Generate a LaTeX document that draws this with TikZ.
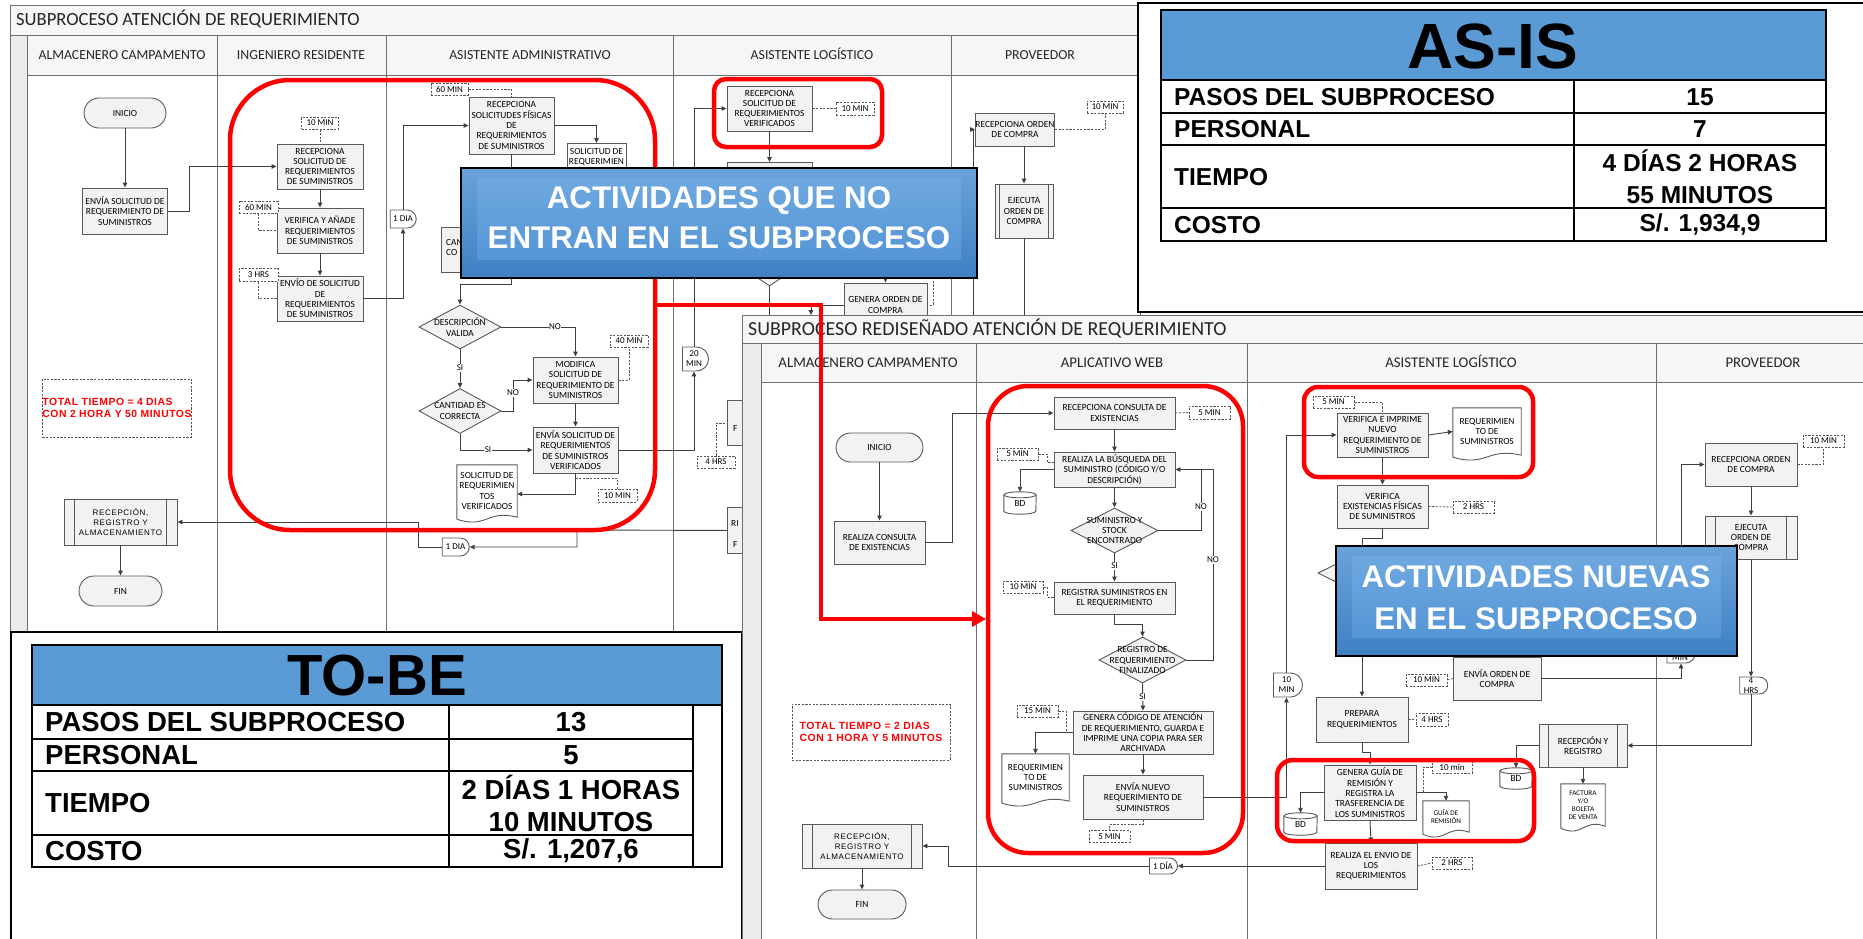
\documentclass[tikz,border=0pt]{standalone}
\usepackage{fontspec}
\setmainfont{Carlito}
\newfontfamily\arialf{Liberation Sans}
\newfontfamily\arialsp{Liberation Sans}[LetterSpace=8]
\newfontfamily\redsp{Liberation Sans}[LetterSpace=5]
\usetikzlibrary{shapes.geometric,shapes.misc,arrows.meta,calc}
\definecolor{lncol}{HTML}{3F3F3F}
\definecolor{bxcol}{HTML}{595959}
\definecolor{bxfill}{HTML}{F2F2F2}
\definecolor{dshcol}{HTML}{555555}
\definecolor{redc}{HTML}{FF0000}
\definecolor{bluetab}{HTML}{5B9BD5}
\definecolor{frmcol}{HTML}{6F6F6F}
\definecolor{hdrfill}{HTML}{F6F6F6}
\definecolor{stripfill}{HTML}{EBEBEB}
\definecolor{blueT}{HTML}{6AA3DB}
\definecolor{blueB}{HTML}{3F7FC3}
\definecolor{blueIT}{HTML}{6EA8DF}
\definecolor{blueIB}{HTML}{5696D6}
\newcommand\bxf{\fontsize{9.4}{10.3}\selectfont}
\newcommand\tmf{\fontsize{9}{10}\selectfont}
\newcommand\smf{\fontsize{7.2}{8}\selectfont}
\newcommand\hdf{\fontsize{13.8}{15}\selectfont}
\newcommand\hdfb{\fontsize{14.8}{16}\selectfont}
\newcommand\ttlf{\fontsize{18.6}{20}\selectfont}
\newcommand\ttlfb{\fontsize{19.9}{22}\selectfont}
\newcommand\rppf{\arialsp\fontsize{8}{10.3}\selectfont}
\newcommand\redf{\redsp\bfseries\fontsize{10.4}{11.5}\selectfont}
\newcommand\tbr{\arialf\bfseries\fontsize{24.5}{32}\selectfont}
\newcommand\tbrb{\arialf\bfseries\fontsize{27.5}{32}\selectfont}
\newcommand\tbh{\arialf\bfseries\fontsize{64}{66}\selectfont}
\newcommand\tbhb{\arialf\bfseries\fontsize{58}{60}\selectfont}
\newcommand\blf{\arialf\bfseries\fontsize{31.3}{40}\selectfont}
\newcommand\docsh[1]{\draw[bxl] ([yshift=-2pt]#1.south west) -- (#1.north west) -- (#1.north east) -- (#1.south east) .. controls ($(#1.south)+(0,-8)$) and ($(#1.south)+(0,12)$) .. ([yshift=-2pt]#1.south west);}
\newcommand\cyl[2]{\draw[bxl] ([yshift=-3pt]#1.north west) -- ([yshift=3pt]#1.south west) arc[start angle=180, end angle=0, x radius=#2, y radius=3] -- ([yshift=-3pt]#1.north east); \draw[bxl] ([yshift=-3pt]#1.north) ellipse[x radius=#2, y radius=3];}
\newcommand\ppl[2]{\draw[bxl] ([xshift=#2pt]#1.north west) -- ([xshift=#2pt]#1.south west); \draw[bxl] ([xshift=-#2pt]#1.north east) -- ([xshift=-#2pt]#1.south east);}
\tikzset{
 ln/.style={draw=lncol, line width=0.9pt},
 ar/.style={ln, -{Triangle[length=5pt,width=4.5pt]}},
 dsh/.style={draw=dshcol, line width=0.8pt, dash pattern=on 2.2pt off 1.4pt},
 bxl/.style={draw=bxcol, line width=0.9pt},
 bx/.style={draw=bxcol, fill=bxfill, line width=0.9pt, inner sep=0pt, align=center, font=\bxf, text=black},
 sz/.style 2 args={minimum width=#1, minimum height=#2},
 tm/.style={dsh, fill=white, inner sep=0pt, font=\tmf},
 dly/.style={draw=bxcol, fill=white, line width=0.9pt, rounded rectangle, rounded rectangle left arc=none, inner sep=0pt, align=center, font=\tmf},
 term/.style={draw=bxcol, fill=bxfill, line width=0.9pt, rounded rectangle, inner sep=0pt, font=\bxf},
 dia/.style={draw=bxcol, fill=bxfill, line width=0.9pt, diamond, inner sep=0pt},
 plain/.style={inner sep=0pt, align=center, font=\bxf, text=black},
 lbl/.style={fill=white, inner sep=0.6pt, font=\tmf},
 frm/.style={draw=frmcol, line width=1pt},
 hdr/.style={font=\hdf, inner sep=0pt, text=black!85},
 hdrb/.style={font=\hdfb, inner sep=0pt, text=black!85},
 redr/.style={draw=redc, line width=4.5pt},
 tot/.style={dsh, inner sep=0pt, align=left, text=redc, font=\redf},
 tbt/.style={font=\tbr, inner sep=0pt, align=center},
 tbtb/.style={font=\tbrb, inner sep=0pt, align=center},
 bltx/.style={font=\blf, text=white, inner sep=0pt},
}
\begin{document}
\begin{tikzpicture}[x=1pt,y=-1pt]
\clip (0,0) rectangle (1863,938);
\fill[white] (0,0) rectangle (1863,938);
% ================= TOP (AS-IS) SWIMLANE =================
\fill[hdrfill] (10,5) rectangle (1140,75);
\fill[stripfill] (10,35) rectangle (27,640);
\draw[frm] (10,5) rectangle (1140,640);
\draw[frm] (10,35) -- (1140,35);
\draw[frm] (27,75) -- (1140,75);
\draw[frm] (27,35) -- (27,640);
\foreach \x in {217,386,673,951} {\draw[frm] (\x,35) -- (\x,640);}
\node[font=\ttlf, inner sep=0pt, text=black!85, anchor=base west] (ttlA) at (16,25.5) {SUBPROCESO ATENCIÓN DE REQUERIMIENTO};
\node[hdr, anchor=base] (hA1) at (122,59.5) {ALMACENERO CAMPAMENTO};
\node[hdr, anchor=base] (hA2) at (301,59.5) {INGENIERO RESIDENTE};
\node[hdr, anchor=base] (hA3) at (530,59.5) {ASISTENTE ADMINISTRATIVO};
\node[hdr, anchor=base] (hA4) at (812,59.5) {ASISTENTE LOGÍSTICO};
\node[hdr, anchor=base] (hA5) at (1040,59.5) {PROVEEDOR};
% nodes
\node[term, sz={82}{30}] (inicioA) at (125,113) {INICIO};
\node[bx, sz={85}{46}] (envA) at (125,211) {ENVÍA SOLICITUD DE\\REQUERIMIENTO DE\\SUMINISTROS};
\node[bx, sz={86}{45}] (recA) at (320,166.5) {RECEPCIONA\\SOLICITUD DE\\REQUERIMIENTOS\\DE SUMINISTROS};
\node[tm, sz={37}{12}] (t10a) at (320,123) {10 MIN};
\node[bx, sz={86}{45}] (verA) at (320,230.5) {VERIFICA Y AÑADE\\REQUERIMIENTOS\\DE SUMINISTROS};
\node[tm, sz={39}{12}] (t60a) at (258.5,207) {60 MIN};
\node[bx, sz={86}{45}] (envioA) at (320,298.5) {ENVÍO DE SOLICITUD\\DE\\REQUERIMIENTOS\\DE SUMINISTROS};
\node[tm, sz={39}{13}] (t3a) at (258.5,275) {3 HRS};
\node[dly, sz={26}{18}] (dia1a) at (403,219) {1 DIA};
\node[bx, sz={85}{57}] (recsolA) at (511.5,125.5) {RECEPCIONA\\SOLICITUDES FÍSICAS\\DE\\REQUERIMIENTOS\\DE SUMINISTROS};
\node[tm, sz={37}{12}] (t60b) at (449.5,89) {60 MIN};
\node[bx, fill=white, sz={59}{57}, anchor=north] (docA1) at (596.5,143) {};
\node[plain, anchor=north] (docA1t) at (596.5,148) {SOLICITUD DE\\REQUERIMIEN};
\node[bx, sz={85}{45}] (canA) at (483.5,249.5) {};
\node[plain, anchor=north west, align=left] (canAt) at (446,239) {CAN\\CO};
\node[dia, sz={82}{44}] (dDesc) at (460,327) {};
\node[plain] (dDesct) at (460,327) {DESCRIPCIÓN\\VALIDA};
\node[dia, sz={82}{45}] (dCant) at (460,411) {};
\node[plain] (dCantt) at (460,411) {CANTIDAD ES\\CORRECTA};
\node[bx, sz={85}{46}] (modA) at (575.5,380) {MODIFICA\\SOLICITUD DE\\REQUERIMIENTO DE\\SUMINISTROS};
\node[tm, sz={38}{12}] (t40a) at (629,341) {40 MIN};
\node[bx, sz={85}{46}] (envvA) at (575.5,450) {ENVÍA SOLICITUD DE\\REQUERIMIENTOS\\DE SUMINISTROS\\VERIFICADOS};
\node[plain, sz={60}{52}] (docA2) at (487,491) {SOLICITUD DE\\REQUERIMIEN\\TOS\\VERIFICADOS};
\docsh{docA2}
\node[tm, sz={39}{13}] (t10b) at (617.5,495.5) {10 MIN};
\node[dly, sz={26}{24}] (min20) at (694,359) {20\\MIN};
\node[bx, sz={85}{45}] (recLA) at (769.5,108.5) {RECEPCIONA\\SOLICITUD DE\\REQUERIMIENTOS\\VERIFICADOS};
\node[tm, sz={38}{13}] (t10c) at (855,108.5) {10 MIN};
\node[bx, sz={85}{40}, anchor=north] (boxLA2) at (769.5,162) {};
\node[dia, sz={90}{60}] (dLA) at (769.5,256) {};
\node[bx, sz={83}{44}] (genOC) at (885.5,305) {GENERA ORDEN DE\\COMPRA};
\node[bx, sz={75}{33}] (recOC) at (1015,129.5) {RECEPCIONA ORDEN\\DE COMPRA};
\node[tm, sz={36}{12}] (t10d) at (1105,107) {10 MIN};
\node[bx, sz={58}{54}] (ejOC) at (1024,211) {EJECUTA\\ORDEN DE\\COMPRA};
\ppl{ejOC}{5}
\node[bx, sz={85}{45}, anchor=north west] (bF) at (727,400) {};
\node[plain, anchor=west] (bFt) at (733,428) {F};
\node[bx, sz={85}{46}, anchor=north west] (bRI) at (727,507) {};
\node[plain, anchor=west] (bRIt) at (731,523) {RI};
\node[plain, anchor=west] (bRIt2) at (733,544) {F};
\node[tm, sz={38}{12}] (t4a) at (716,462) {4 HRS};
\node[dly, sz={27}{18}] (dia1b) at (455.5,547) {1 DIA};
\node[bx, font=\rppf, sz={113}{46}] (recRA) at (120.5,522) {RECEPCIÓN,\\REGISTRO Y\\ALMACENAMIENTO};
\ppl{recRA}{11}
\node[term, sz={83}{30}] (finA) at (120.5,591) {FIN};
\node[tot, sz={148}{58}] (totA) at (117,408) {TOTAL TIEMPO = 4 DIAS\\CON 2 HORA Y 50 MINUTOS};
% connectors
\draw[ar] (inicioA.south) -- (envA.north);
\draw[ar] (envA.east) -- (189,211) |- (recA.west);
\draw[dsh] (t10a.south) -- (recA.north);
\draw[ar] (recA.south) -- (verA.north);
\draw[dsh] (t60a.south) |- (verA.west);
\draw[ar] (verA.south) -- (envioA.north);
\draw[dsh] (t3a.south) |- (envioA.west);
\draw[ar] (envioA.east) -| (dia1a.south);
\draw[ar] (dia1a.north) |- (recsolA.west);
\draw[dsh] (t60b.east) -| (recsolA.north);
\draw[ar] (recsolA.east) -| (docA1.north);
\draw[ln] (recsolA.south) -- ++(0,20);
\draw[ar] (511.5,270) -- (511.5,284) -| (dDesc.north);
\draw[ar] (dDesc.east) -| (modA.north);
\node[lbl] (noA1) at (555,327) {NO};
\draw[ar] (dDesc.south) -- (dCant.north);
\node[lbl] (siA1) at (460,368) {SI};
\draw[ar] (dCant.east) -- (513,411) |- (modA.west);
\node[lbl] (noA2) at (513,393) {NO};
\draw[ar] (dCant.south) |- (envvA.west);
\node[lbl] (siA2) at (488,450) {SI};
\draw[ar] (modA.south) -- (envvA.north);
\draw[dsh] (modA.east) -| (t40a.south);
\draw[ar] (envvA.south) |- ($(docA2.east)+(0,3)$);
\draw[dsh] ($(envvA.south)+(0,5)$) -| (t10b.north);
\draw[ar] (envvA.east) -| (min20.south);
\draw[ar] (min20.north) |- (recLA.west);
\draw[dsh] (recLA.east) -- (t10c.west);
\draw[ar] (recLA.south) -- (boxLA2.north);
\draw[ln] (dLA.south) -- ++(0,40);
\draw[ar] (885.5,270) -- (genOC.north);
\draw[dsh] (933,270) |- (genOC.east);
\draw[ar] (genOC.west) -| (811,315);
\draw[ar] (973,330) |- (recOC.west);
\draw[dsh] (recOC.east) -| (t10d.south);
\draw[ar] (recOC.south -| ejOC.north) -- (ejOC.north);
\draw[ln] (ejOC.south) -- ++(0,100);
\draw[dsh] (t4a.north) |- (bF.west);
\draw[ar] (bRI.west) -- (577,530) |- (dia1b.east);
\draw[ar] (dia1b.west) -- (418,547) |- (recRA.east);
\draw[ar] (recRA.south) -- (finA.north);
% red rects top
\draw[redr, rounded corners=60pt] (230,80) rectangle (655,530);
\draw[redr, rounded corners=12pt] (714,79) rectangle (882,147);
% blue box A
\shade[top color=blueT, bottom color=blueB] (461,168) rectangle (977,278);
\shade[top color=blueIT, bottom color=blueIB] (477,178) rectangle (961,259);
\draw[line width=1.3pt] (461,168) rectangle (977,278);
\node[bltx, anchor=base] (blA1) at (719,208) {ACTIVIDADES QUE NO};
\node[bltx, anchor=base] (blA2) at (719,248) {ENTRAN EN EL SUBPROCESO};
% ================= AS-IS TABLE =================
\draw[line width=2pt, fill=white] (1138,3) rectangle (1880,312);
\draw[line width=2pt, fill=bluetab] (1161,10) rectangle (1826,80);
\node[font=\tbh, inner sep=0pt] (asis) at (1493,46) {AS-IS};
\draw[line width=2pt] (1161,80) rectangle (1826,241);
\draw[line width=2pt] (1161,113) -- (1826,113) (1161,145) -- (1826,145) (1161,208) -- (1826,208) (1574,80) -- (1574,241);
\node[tbt, anchor=west] (a1) at (1174,97) {PASOS DEL SUBPROCESO};
\node[tbt] (a1v) at (1700,97) {15};
\node[tbt, anchor=west] (a2) at (1174,129) {PERSONAL};
\node[tbt] (a2v) at (1700,129) {7};
\node[tbt, anchor=west] (a3) at (1174,177) {TIEMPO};
\node[tbt] (a3v) at (1700,177) {4 DÍAS 2 HORAS\\55 MINUTOS};
\node[tbt, anchor=west] (a4) at (1174,225) {COSTO};
\node[tbt] (a4v) at (1700,225) {S/. 1,934,9};
% ================= TO-BE TABLE =================
\draw[line width=2pt, fill=white] (11,632) rectangle (742,950);
\draw[line width=2pt, fill=bluetab] (32,645) rectangle (722,705);
\node[font=\tbhb, inner sep=0pt] (tobe) at (377,676) {TO-BE};
\draw[line width=2pt] (32,705) rectangle (722,867);
\draw[line width=2pt] (32,739) -- (693,739) (32,771) -- (693,771) (32,835) -- (693,835) (449,705) -- (449,867) (693,705) -- (693,867);
\node[tbtb, anchor=west] (b1) at (45,722) {PASOS DEL SUBPROCESO};
\node[tbtb] (b1v) at (571,722) {13};
\node[tbtb, anchor=west] (b2) at (45,755) {PERSONAL};
\node[tbtb] (b2v) at (571,755) {5};
\node[tbtb, anchor=west] (b3) at (45,803) {TIEMPO};
\node[tbtb] (b3v) at (571,803) {2 DÍAS 1 HORAS\\10 MINUTOS};
\node[tbtb, anchor=west] (b4) at (45,851) {COSTO};
\node[tbtb] (b4v) at (571,851) {S/. 1,207,6};
% ================= REDESIGNED SWIMLANE =================
\fill[white] (742,315) rectangle (1880,950);
\fill[hdrfill] (742,315) rectangle (1880,382);
\fill[stripfill] (742,343) rectangle (761,950);
\draw[frm] (742,315) rectangle (1880,950);
\draw[frm] (742,343) -- (1880,343);
\draw[frm] (761,382) -- (1880,382);
\draw[frm] (761,343) -- (761,950);
\foreach \x in {976,1247,1656} {\draw[frm] (\x,343) -- (\x,950);}
\node[font=\ttlfb, inner sep=0pt, text=black!85, anchor=base west] (ttlB) at (748,335) {SUBPROCESO REDISEÑADO ATENCIÓN DE REQUERIMIENTO};
\node[hdrb, anchor=base] (hB1) at (868,367) {ALMACENERO CAMPAMENTO};
\node[hdrb, anchor=base] (hB2) at (1112,367) {APLICATIVO WEB};
\node[hdrb, anchor=base] (hB3) at (1451,367) {ASISTENTE LOGÍSTICO};
\node[hdrb, anchor=base] (hB4) at (1763,367) {PROVEEDOR};
% nodes
\node[term, sz={87}{29}] (inicioB) at (879.5,447.5) {INICIO};
\node[bx, sz={91}{43}] (realB) at (879.5,542.5) {REALIZA CONSULTA\\DE EXISTENCIAS};
\node[bx, sz={121}{32}] (recCB) at (1114.5,413) {RECEPCIONA CONSULTA DE\\EXISTENCIAS};
\node[tm, sz={41}{13}] (t5b) at (1209.5,412.5) {5 MIN};
\node[bx, sz={121}{35}] (busB) at (1114.5,469.5) {REALIZA LA BÚSQUEDA DEL\\SUMINISTRO (CÓDIGO Y/O\\DESCRIPCIÓN)};
\node[tm, sz={41}{12}] (t5c) at (1017.5,454) {5 MIN};
\node[plain, sz={32}{22}] (bdB1) at (1020,503) {BD};
\cyl{bdB1}{16}
\node[dia, sz={87}{45}] (dSum) at (1114.5,530.5) {};
\node[plain] (dSumt) at (1114.5,530.5) {SUMINISTRO Y\\STOCK\\ENCONTRADO};
\node[bx, sz={121}{32}] (regB) at (1114.5,598) {REGISTRA SUMINISTROS EN\\EL REQUERIMIENTO};
\node[tm, sz={40}{12}] (t10e) at (1023,587) {10 MIN};
\node[dia, sz={87}{46}] (dReg) at (1142.5,660) {};
\node[plain] (dRegt) at (1142.5,660) {REGISTRO DE\\REQUERIMIENTO\\FINALIZADO};
\node[bx, sz={140}{43}] (genB) at (1143,732.5) {GENERA CÓDIGO DE ATENCIÓN\\DE REQUERIMIENTO, GUARDA E\\IMPRIME UNA COPIA PARA SER\\ARCHIVADA};
\node[tm, sz={41}{12}] (t15b) at (1037.5,711) {15 MIN};
\node[plain, sz={67}{47}] (docB1) at (1035.5,777.5) {REQUERIMIEN\\TO DE\\SUMINISTROS};
\docsh{docB1}
\node[bx, sz={120}{44}] (envNB) at (1143,797) {ENVÍA NUEVO\\REQUERIMIENTO DE\\SUMINISTROS};
\node[tm, sz={41}{12}] (t5d) at (1109.5,836.5) {5 MIN};
\node[dly, sz={29}{24}] (min10B) at (1286.5,685) {10\\MIN};
\node[dly, sz={28}{16}] (dia1B) at (1163,866) {1 DÍA};
\node[bx, font=\rppf, sz={120}{44}] (recRB) at (862,846) {RECEPCIÓN,\\REGISTRO Y\\ALMACENAMIENTO};
\ppl{recRB}{11}
\node[term, sz={88}{29}] (finB) at (862,904.5) {FIN};
\node[tot, sz={158}{56}] (totB) at (871,732) {TOTAL TIEMPO = 2 DIAS\\CON 1 HORA Y 5 MINUTOS};
\node[bx, sz={91}{44}] (verB) at (1382.5,435) {VERIFICA E IMPRIME\\NUEVO\\REQUERIMIENTO DE\\SUMINISTROS};
\node[tm, sz={41}{12}] (t5e) at (1333.5,402) {5 MIN};
\node[plain, sz={68}{47}] (docB2) at (1487,431.5) {REQUERIMIEN\\TO DE\\SUMINISTROS};
\docsh{docB2}
\node[bx, sz={91}{43}] (vexB) at (1382.5,506.5) {VERIFICA\\EXISTENCIAS FÍSICAS\\DE SUMINISTROS};
\node[tm, sz={41}{12}] (t2b) at (1473.5,507) {2 HRS};
\node[dia, sz={88}{44}] (dLB) at (1362,573) {};
\node[bx, sz={92}{45}] (prepB) at (1362,719.5) {PREPARA\\REQUERIMIENTOS};
\node[tm, sz={32}{13}] (t4b) at (1432,719.5) {4 HRS};
\node[bx, sz={88}{43}] (envOB) at (1497,678.5) {ENVÍA ORDEN DE\\COMPRA};
\node[tm, sz={41}{12}] (t10f) at (1426.5,680) {10 MIN};
\node[bx, sz={92}{55}] (genGB) at (1370,792.5) {GENERA GUÍA DE\\REMISIÓN Y\\REGISTRA LA\\TRASFERENCIA DE\\LOS SUMINISTROS};
\node[tm, sz={40}{12}] (t10g) at (1452,767) {10 min};
\node[plain, font=\smf, sz={46}{31}] (docGR) at (1446,816.5) {GUÍA DE\\REMISIÓN};
\docsh{docGR}
\node[plain, sz={33}{22}] (bdB2) at (1300.5,824) {BD};
\cyl{bdB2}{16.5}
\node[bx, sz={92}{46}] (envRB) at (1371,866) {REALIZA EL ENVIO DE\\LOS\\REQUERIMIENTOS};
\node[tm, sz={40}{12}] (t2c) at (1452,863) {2 HRS};
\node[bx, sz={92}{43}] (recOB) at (1751,464.5) {RECEPCIONA ORDEN\\DE COMPRA};
\node[tm, sz={41}{12}] (t10h) at (1823.5,441) {10 MIN};
\node[bx, sz={92}{43}] (ejOB) at (1751,537.5) {EJECUTA\\ORDEN DE\\COMPRA};
\ppl{ejOB}{11}
\node[dly, sz={28}{19}] (minB2) at (1681,653.5) {};
\node[plain, font=\tmf] (minB2t) at (1680,658) {MIN};
\node[dly, sz={28}{17}] (h4B) at (1751,685.5) {4\\HRS};
\node[bx, sz={88}{43}] (recYR) at (1583,745.5) {RECEPCIÓN Y\\REGISTRO};
\ppl{recYR}{10}
\node[plain, sz={32}{21}] (bdB3) at (1516,778.5) {BD};
\cyl{bdB3}{16}
\node[plain, font=\smf, sz={44}{42}] (docFac) at (1583,805) {FACTURA\\Y/O\\BOLETA\\DE VENTA};
\docsh{docFac}
% connectors
\draw[ar] (inicioB.south) -- (realB.north);
\draw[ar] (realB.east) -- (952,542.5) |- (recCB.west);
\draw[dsh] (recCB.east) -- (t5b.west);
\draw[ar] (recCB.south) -- (busB.north);
\draw[dsh] (t5c.east) -| (1047,462) -- (busB.west |- 0,462);
\draw[ar] (busB.west |- 0,469) -| (bdB1.north);
\draw[ar] (busB.south) -- (dSum.north);
\draw[ar] (dSum.east) -- (1201,530.5) |- (busB.east);
\node[lbl] (noB1) at (1201,507) {NO};
\draw[ar] (dSum.south) -- (regB.north);
\node[lbl] (siB1) at (1114.5,566) {SI};
\draw[dsh] (t10e.east) -| (1047,597) -- (regB.west |- 0,597);
\draw[ar] (regB.south) -- (1114.5,624) -| (dReg.north);
\draw[ln] (dReg.east) -- (1213,660) |- (1201,469.5);
\node[lbl] (noB2) at (1213,560) {NO};
\draw[ar] (dReg.south) -- (genB.north);
\node[lbl] (siB2) at (1142.5,697) {SI};
\draw[dsh] (t15b.east) -| (1066,733);
\draw[ar] (genB.west) -| (docB1.north);
\draw[ar] (genB.south) -- (envNB.north);
\draw[dsh] (envNB.south) -- ++(0,5) -| (t5d.north);
\draw[ar] (envNB.east) -| (min10B.south);
\draw[ar] (min10B.north) |- (verB.west);
\draw[dsh] (t5e.east) -| (verB.north);
\draw[ar] (verB.east) -- (docB2.west);
\draw[ar] (verB.south) -- (vexB.north);
\draw[dsh] (vexB.east) -- (t2b.west);
\draw[ar] (vexB.south) -- ++(0,10) -| (dLB.north);
\draw[ar] (dLB.south) -- (prepB.north);
\draw[ar] (dLB.east) -| (envOB.north);
\draw[dsh] (prepB.east) -- (t4b.west);
\draw[dsh] (t10f.east) -- (envOB.west);
\draw[ar] (prepB.south) -- ++(0,10) -| (genGB.north);
\draw[ar] (genGB.east) -| (docGR.north);
\draw[dsh] (1423,792.5) |- (t10g.west);
\draw[ar] (genGB.west) -| (bdB2.north);
\draw[ar] (genGB.south) -- (envRB.north);
\draw[dsh] (envRB.east) -- (t2c.west);
\draw[ar] (envRB.west) -- (dia1B.east);
\draw[ar] (dia1B.west) -- (948,866) |- (recRB.east);
\draw[ar] (recRB.south) -- (finB.north);
\draw[ar] (envOB.east) -| (minB2.south);
\draw[ar] (minB2.north) |- (recOB.west);
\draw[dsh] (recOB.east) -| (t10h.south);
\draw[ar] (recOB.south) -- (ejOB.north);
\draw[ar] (ejOB.south) -- (h4B.north);
\draw[ar] (h4B.south) |- (recYR.east);
\draw[ar] (recYR.west) -| (bdB3.north);
\draw[ar] (recYR.south) -- (docFac.north);
% red rects redesign
\draw[redr, rounded corners=40pt] (988,386) rectangle (1243,853);
\draw[redr, rounded corners=14pt] (1304,387) rectangle (1533,477);
\draw[redr, rounded corners=16pt] (1277,760) rectangle (1534,841);
% blue box B
\shade[top color=blueT, bottom color=blueB] (1336,546) rectangle (1737,656);
\shade[top color=blueIT, bottom color=blueIB] (1352,556) rectangle (1721,637);
\draw[line width=1.3pt] (1336,546) rectangle (1737,656);
\node[bltx, anchor=base] (blB1) at (1536,587) {ACTIVIDADES NUEVAS};
\node[bltx, anchor=base] (blB2) at (1536,629) {EN EL SUBPROCESO};
% red connector
\coordinate (rs) at (655,305);
\coordinate (re) at (986,619);
\draw[draw=redc, line width=4pt, -{Triangle[length=14pt,width=15pt]}] (rs) -- (821,305) |- (re);
\end{tikzpicture}
\end{document}
